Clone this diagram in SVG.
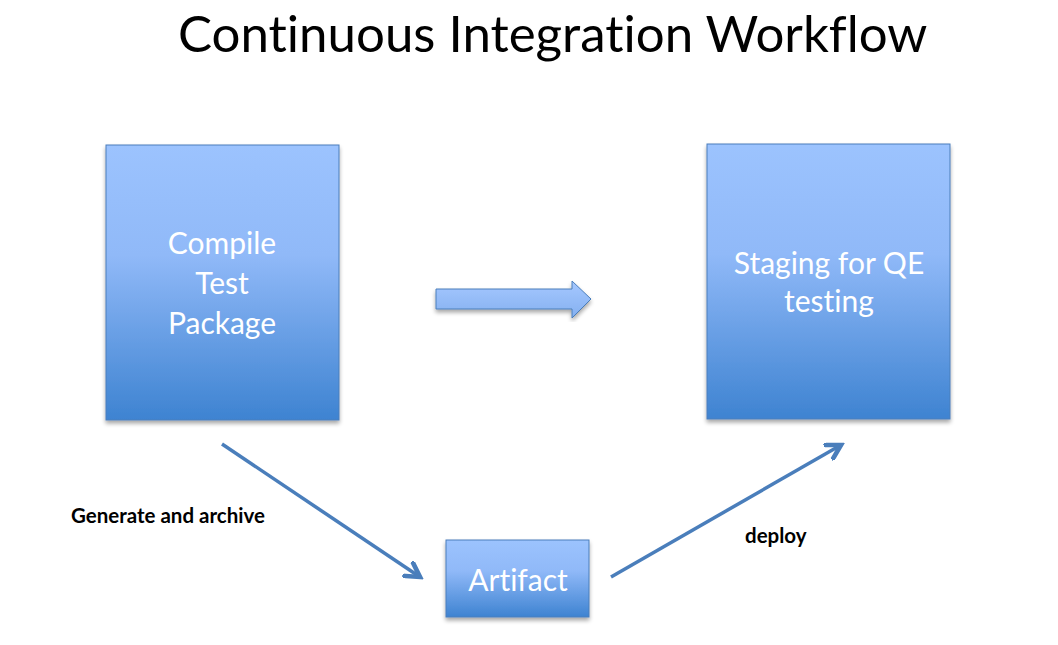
<svg xmlns="http://www.w3.org/2000/svg" width="1058" height="645" viewBox="0 0 1058 645">
<defs>
<linearGradient id="boxg" x1="0" y1="0" x2="0" y2="1">
<stop offset="0" stop-color="#9cc3fe"/>
<stop offset="0.4" stop-color="#90b9f8"/>
<stop offset="1" stop-color="#3e83d1"/>
</linearGradient>
<linearGradient id="arrg" x1="0" y1="0" x2="0" y2="1">
<stop offset="0" stop-color="#a6c8ff"/>
<stop offset="1" stop-color="#84b0f0"/>
</linearGradient>
<filter id="sh" x="-10%" y="-10%" width="120%" height="120%">
<feGaussianBlur in="SourceAlpha" stdDeviation="2"/>
<feOffset dx="0" dy="3"/>
<feComponentTransfer><feFuncA type="linear" slope="0.35"/></feComponentTransfer>
<feMerge><feMergeNode/><feMergeNode in="SourceGraphic"/></feMerge>
</filter>
<marker id="ah" viewBox="0 0 10 10" refX="8" refY="5" markerWidth="5.5" markerHeight="5.5" orient="auto" markerUnits="strokeWidth">
<path d="M1,1 L8,5 L1,9" fill="none" stroke="#4a7ebb" stroke-width="2.4" stroke-linecap="square"/>
</marker>
</defs>
<style>
text{font-variant-ligatures:none}
.box{fill:url(#boxg);stroke:#4a7ebb;stroke-width:1;filter:url(#sh)}
.bt{font-family:Lato,"Open Sans",sans-serif;font-size:30px;fill:#ffffff;text-anchor:middle}
.lbl{font-family:Lato,"Open Sans",sans-serif;font-size:20.5px;font-weight:bold;fill:#000000}
.title{font-family:Lato,"Open Sans",sans-serif;font-size:51px;fill:#000000}
.conn{stroke:#4a7ebb;stroke-width:3.5;fill:none;marker-end:url(#ah)}
</style>
<rect width="1058" height="645" fill="#ffffff"/>
<text class="title" x="178" y="52">Continuous Integration Workflow</text>
<g id="compile">
<rect class="box" x="106" y="145" width="233" height="275"/>
<text class="bt" x="222" y="254">Compile</text>
<text class="bt" x="222" y="294">Test</text>
<text class="bt" x="222" y="334">Package</text>
</g>
<g id="staging">
<rect class="box" x="707" y="144" width="243" height="275"/>
<text class="bt" x="829" y="274">Staging for QE</text>
<text class="bt" x="829" y="312">testing</text>
</g>
<g id="artifact">
<rect class="box" x="446" y="540" width="143" height="77"/>
<text class="bt" x="518" y="591">Artifact</text>
</g>
<g id="connectors">
<path d="M436,289 L572,289 L572,281 L591,299 L572,318 L572,309 L436,309 Z" fill="url(#arrg)" stroke="#4a7ebb" stroke-width="1" filter="url(#sh)"/>
<line class="conn" x1="222" y1="444" x2="420" y2="577"/>
<line class="conn" x1="611" y1="577" x2="841" y2="445"/>
<text class="lbl" x="71" y="523">Generate and archive</text>
<text class="lbl" x="745" y="543">deploy</text>
</g>
</svg>
